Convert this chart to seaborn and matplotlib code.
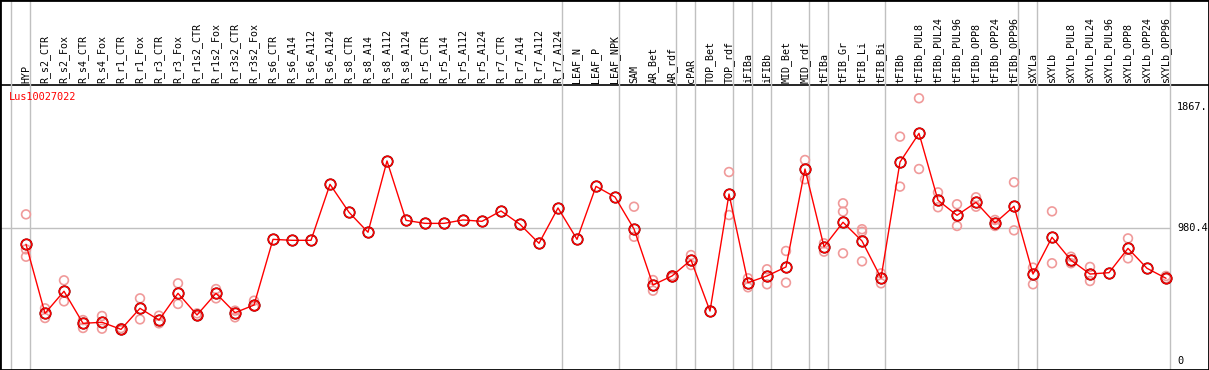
import numpy as np
import matplotlib
matplotlib.use("Agg")
import matplotlib.pyplot as plt
import matplotlib.transforms as mtransforms
import pandas as pd
import seaborn as sns

# sample names, in plot order
samples = [
    "HYP", "R_s2_CTR", "R_s2_Fox", "R_s4_CTR", "R_s4_Fox", "R_r1_CTR", "R_r1_Fox",
    "R_r3_CTR", "R_r3_Fox", "R_r1s2_CTR", "R_r1s2_Fox", "R_r3s2_CTR", "R_r3s2_Fox",
    "R_s6_CTR", "R_s6_A14", "R_s6_A112", "R_s6_A124", "R_s8_CTR", "R_s8_A14",
    "R_s8_A112", "R_s8_A124", "R_r5_CTR", "R_r5_A14", "R_r5_A112", "R_r5_A124",
    "R_r7_CTR", "R_r7_A14", "R_r7_A112", "R_r7_A124", "LEAF_N", "LEAF_P", "LEAF_NPK",
    "SAM", "AR_Bet", "AR_rdf", "cPAR", "TOP_Bet", "TOP_rdf", "iFIBa", "iFIBb",
    "MID_Bet", "MID_rdf", "tFIBa", "tFIB_Gr", "tFIB_Li", "tFIB_Bi", "tFIBb",
    "tFIBb_PUL8", "tFIBb_PUL24", "tFIBb_PUL96", "tFIBb_OPP8", "tFIBb_OPP24", "tFIBb_OPP96",
    "sXYLa", "sXYLb", "sXYLb_PUL8", "sXYLb_PUL24", "sXYLb_PUL96", "sXYLb_OPP8",
    "sXYLb_OPP24", "sXYLb_OPP96",
]

# mean expression per sample
means = [
    862, 356, 518, 283, 291, 239, 393, 307, 503, 344, 503, 361, 417,
    898, 891, 891, 1301, 1096, 950, 1472, 1037, 1015, 1015, 1040, 1030,
    1106, 1008, 869, 1128, 898, 1286, 1208,
    974, 564, 630, 747, 373, 1230, 581, 630, 696, 1413, 844, 1023, 886, 615, 1464,
    1674, 1184, 1074, 1169, 1018, 1140,
    644, 913, 745, 644, 654, 832, 686, 613,
]

# individual replicates per sample
replicates = [
    [1081, 825, 771], [393, 322], [598, 444], [307, 249], [337, 244], [248, 232],
    [466, 312], [339, 283], [576, 425], [356, 337], [534, 466], [376, 327], [449, 405],
    [], [], [], [], [], [], [], [], [], [], [], [], [], [], [], [], [], [], [],
    [1137, 917], [600, 522], [634, 620], [783, 710], [], [1391, 1076], [613, 547],
    [679, 569], [813, 581], [1479, 1338], [869, 808], [1162, 1101, 796],
    [972, 954, 737], [649, 576], [1650, 1284], [1931, 1413], [1242, 1133],
    [1155, 996], [1206, 1137], [1040, 996], [1316, 964],
    [691, 569], [1103, 723], [771, 723], [696, 593], [], [905, 759], [], [630, 613],
]

# a separator line is drawn after each of these samples
group_ends = ["HYP", "R_r7_A124", "LEAF_NPK", "AR_rdf", "cPAR", "TOP_rdf", "iFIBa",
              "iFIBb", "MID_rdf", "tFIBa", "tFIB_Bi", "tFIBb_OPP96", "sXYLa", "sXYLb_OPP96"]

gene = "Lus10027022"
ymax_label = "1867."
ymid_label = "980.4"
ymax_val = 1867
ymid_val = 980.4

pos = np.arange(len(samples))
mean_df = pd.DataFrame({"pos": pos, "value": means})
rep_df = pd.DataFrame(
    [(i, v) for i, reps in enumerate(replicates) for v in reps],
    columns=["pos", "value"],
)

sns.set_style("white")
mono = ["DejaVu Sans Mono"]

W, H = 1209, 370
fig = plt.figure(figsize=(W / 100, H / 100), dpi=100)
ax = fig.add_axes([0, 0, 1, 1])

# pixel mapping: sample i at x = 26 + 19 i ; value v at y = 362 - v * 255 / ymax
step = 19.0
x0 = 26.0
ax.set_xlim(-x0 / step, (W - x0) / step)
scale = 255.0 / ymax_val
ax.set_ylim((362 - H) / scale, 362 / scale)

def px_to_y(py):
    return (362 - py) / scale

right_frac = 1170 / W

# grid lines
ax.axhline(ymid_val, xmin=0, xmax=right_frac, color="#c0c0c0", lw=1, zorder=1)
ax.axhline(px_to_y(85), color="black", lw=1.2, zorder=1)
ax.axvline(-1 + 0.23, color="#c0c0c0", lw=1, zorder=1)
for name in group_ends:
    ax.axvline(samples.index(name) + 0.23, color="#c0c0c0", lw=1, zorder=1)

sns.scatterplot(data=rep_df, x="pos", y="value", ax=ax, marker="o", s=40,
                facecolors="none", edgecolor="#f09a9a", linewidth=1.2, zorder=2)
sns.lineplot(data=mean_df, x="pos", y="value", ax=ax, color="red", lw=1,
             zorder=3, legend=False)
ax.plot(mean_df["pos"], mean_df["value"], linestyle="none", marker="o", ms=7.5,
        mfc="none", mec="#700000", mew=1.3, zorder=4)
ax.plot(mean_df["pos"], mean_df["value"], linestyle="none", marker="o", ms=7.5,
        mfc="none", mec="red", mew=0.9, zorder=5)

# header labels
trans = mtransforms.blended_transform_factory(ax.transData, ax.transAxes)
for i, name in enumerate(samples):
    ax.text(i, 1 - 83 / H, name, transform=trans, rotation=90, ha="center",
            va="bottom", fontsize=7.2, family=mono, color="black")

ax.text(9 / W, 1 - 97 / H, gene, transform=ax.transAxes, ha="left", va="center",
        fontsize=7.4, family=mono, color="red")

# right-hand value labels
rtrans = mtransforms.blended_transform_factory(ax.transAxes, ax.transData)
for val, lab in [(ymax_val, ymax_label), (ymid_val, ymid_label), (0, "0")]:
    yy = val if val != 0 else px_to_y(361.5)
    ax.text(1177 / W, yy, lab, transform=rtrans, ha="left", va="center",
            fontsize=7.4, family=mono, color="black")

ax.set_xlabel("")
ax.set_ylabel("")
ax.set_xticks([])
ax.set_yticks([])
for sp in ax.spines.values():
    sp.set_visible(True)
    sp.set_color("black")
    sp.set_linewidth(2)

fig.savefig("out.png", dpi=100)
